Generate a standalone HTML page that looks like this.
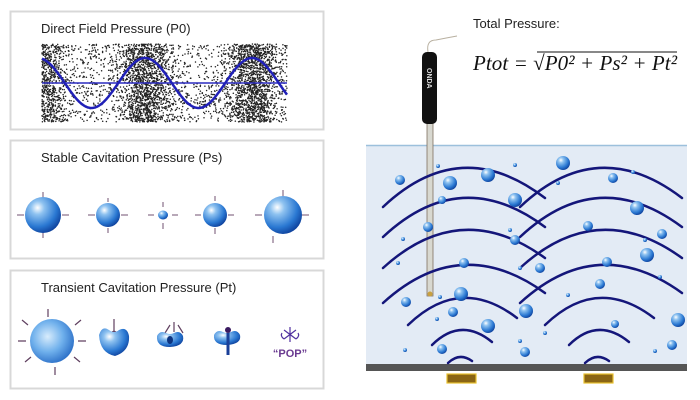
<!DOCTYPE html>
<html><head><meta charset="utf-8"><style>
html,body{margin:0;padding:0;background:#fff;}
svg{display:block;}
text{font-family:"Liberation Sans",sans-serif;}
</style></head><body>
<svg id="s" width="700" height="400" viewBox="0 0 700 400" xmlns="http://www.w3.org/2000/svg">
<defs>
<radialGradient id="b" cx="0.35" cy="0.3" r="0.75">
<stop offset="0" stop-color="#ffffff"/><stop offset="0.25" stop-color="#8ec2f0"/><stop offset="0.7" stop-color="#2a78d2"/><stop offset="1" stop-color="#0d3f9a"/>
</radialGradient>
<radialGradient id="b2" cx="0.4" cy="0.4" r="0.7">
<stop offset="0" stop-color="#d8ecfc"/><stop offset="0.5" stop-color="#6fb0ec"/><stop offset="1" stop-color="#1f63c0"/>
</radialGradient>
</defs>
<rect x="10.5" y="11.5" width="313" height="118" fill="#fff" stroke="#d8d8d8" stroke-width="2"/>
<rect x="10.5" y="140.5" width="313" height="118" fill="#fff" stroke="#d8d8d8" stroke-width="2"/>
<rect x="10.5" y="270.5" width="313" height="118" fill="#fff" stroke="#d8d8d8" stroke-width="2"/>
<text x="41" y="33" font-size="13" fill="#222">Direct Field Pressure (P0)</text>
<text x="41" y="162" font-size="13" fill="#222">Stable Cavitation Pressure (Ps)</text>
<text x="41" y="292" font-size="13" fill="#222">Transient Cavitation Pressure (Pt)</text>
<g id="dots"></g>
<line x1="42" y1="83" x2="287" y2="83" stroke="#2c2cc0" stroke-width="1.5"/>
<path id="wave" fill="none" stroke="#2020b8" stroke-width="2.5"/>
<g stroke="#705070" stroke-width="1" fill="none">
<path d="M17 215h7M62 215h7M43 192v6M43 232v6"/>
<path d="M88 215h7M121 215h7M108 198v4M108 228v5"/>
<path d="M148 215h6M172 215h6M163 202v5M163 223v6"/>
<path d="M195 215h6M228 215h6M215 196v5M215 228v6"/>
<path d="M255 215h7M302 215h7M283 190v6M273 236v7"/>
</g>
<circle cx="43" cy="215" r="18" fill="url(#b)"/>
<circle cx="108" cy="215" r="12" fill="url(#b)"/>
<ellipse cx="163" cy="215" rx="5" ry="4.5" fill="url(#b)"/>
<ellipse cx="215" cy="215" rx="12" ry="12" fill="url(#b)"/>
<circle cx="283" cy="215" r="19" fill="url(#b)"/>
<g stroke="#604060" stroke-width="1.2">
<path d="M48 309v8M22 320l6 5M81 320l-6 5M18 341h8M78 341h8M25 362l6-5M80 362l-6-5M55 367v8"/>
<path d="M114 319v19M114 331l-8 4M114 331l8 4"/>
<path d="M174 322v10M170 325l-5 8M178 325l5 8"/>
</g>
<circle cx="52" cy="341" r="22" fill="url(#b2)"/>
<path d="M99 335 q3 -10 10 -5 q5 4 10 0 q8 -4 10 6 q1 15 -14 20 q-15 -3 -16 -21z" fill="url(#b)"/>
<path d="M157 336 q3 -6 9 -3 q4 2 8 0 q6 -3 9 3 q2 10 -13 11 q-14 0 -13 -11z" fill="url(#b)"/>
<ellipse cx="170" cy="340" rx="3" ry="4" fill="#0d3480"/>
<path d="M214 335 q3 -6 9 -3 q4 2 8 0 q6 -3 9 3 q2 9 -13 10 q-14 0 -13 -10z" fill="url(#b)"/>
<path d="M228 333 v22" stroke="#1a3f98" stroke-width="3"/>
<circle cx="228" cy="330" r="3" fill="#3a1a60"/>
<g stroke="#5030a0" stroke-width="1.2" fill="none">
<path d="M284 330l12 9M296 330l-12 9M290 327v15M282 333 q-2 3 2 6M298 333 q2 3 -2 6"/>
</g>
<text x="290" y="357" font-size="11" font-weight="bold" fill="#6a3a90" text-anchor="middle">“POP”</text>
<text x="473" y="28" font-size="13" fill="#222">Total Pressure:</text>
<text x="473" y="70" font-size="21" fill="#111" textLength="204" style="font-family:'Liberation Serif',serif;font-style:italic">Ptot = √P0² + Ps² + Pt²</text>
<line x1="537" y1="52" x2="677" y2="52" stroke="#111" stroke-width="1"/>
<path d="M428 52 q-2 -12 8 -12 q10 -2 21 -4" fill="none" stroke="#b8b0a0" stroke-width="1"/>
<rect x="366" y="145" width="321" height="220" fill="#e3ebf5"/>
<line x1="366" y1="145.5" x2="687" y2="145.5" stroke="#9cc0dc" stroke-width="1.5"/>
<rect x="427" y="118" width="6" height="178" fill="#d8d8d0" stroke="#807060" stroke-width="0.8"/>
<circle cx="430" cy="294" r="2.5" fill="#c8a040"/>
<rect x="422" y="52" width="15" height="72" rx="5" fill="#111"/>
<text x="0" y="0" font-size="7" font-weight="bold" fill="#ddd" transform="translate(427,68) rotate(90)">ONDA</text>
<rect x="366" y="364" width="321" height="7" fill="#555"/>
<rect x="447" y="374" width="29" height="9" fill="#8a6515" stroke="#e8c030" stroke-width="1.2"/>
<rect x="584" y="374" width="29" height="9" fill="#8a6515" stroke="#e8c030" stroke-width="1.2"/>
<g id="arcs" fill="none" stroke="#14167a" stroke-width="2.5" stroke-linecap="round"></g>
<g id="bub"></g>
</svg>
<script>
var NS="http://www.w3.org/2000/svg";
function el(t,a,p){var e=document.createElementNS(NS,t);for(var k in a)e.setAttribute(k,a[k]);document.getElementById(p).appendChild(e);return e;}
var seed=7;function r(){seed=(seed*16807)%2147483647;return seed/2147483647;}
var P=107,x0=145;
for(var i=0;i<11000;i++){var x=42+r()*245,y=44+r()*78;var d=Math.cos(2*Math.PI*(x-x0)/P);var p=0.14+0.86*Math.pow((d+1)/2,3);if(r()<p){el("circle",{cx:x.toFixed(1),cy:y.toFixed(1),r:0.75,fill:"#222"},"dots");}}
var w="";for(var x=42;x<=287;x+=1){var y=83-25*Math.cos(2*Math.PI*(x-x0)/P);w+=(x==42?"M":"L")+x+" "+y.toFixed(1);}
document.getElementById("wave").setAttribute("d",w);
var A=[[383,207,168,545,198],[383,237,198,545,227],[383,268,230,545,258],[383,303,265,545,293],[408,325,298,517,318],[432,345,330,492,342],[448,363,357,472,361]];
A.forEach(function(a){[0,137].forEach(function(o){var s=a[0]+o,e=a[3]+o;
var cy=2*a[2]-(a[1]+a[4])/2;var cx=s+(e-s)*0.48;
el("path",{d:"M"+s+" "+a[1]+" Q"+cx+" "+cy+" "+e+" "+a[4]},"arcs");});});
var B=[[400,180,5],[450,183,7],[488,175,7],[515,200,7],[563,163,7],[613,178,5],[637,208,7],[442,200,4],[428,227,5],[588,226,5],[662,234,5],[515,240,5],[647,255,7],[540,268,5],[464,263,5],[607,262,5],[600,284,5],[461,294,7],[406,302,5],[453,312,5],[526,311,7],[488,326,7],[678,320,7],[615,324,4],[442,349,5],[525,352,5],[672,345,5],
[438,166,2],[515,165,2],[558,183,2],[633,172,2],[403,239,2],[510,230,2],[398,263,2],[645,240,2],[520,268,2],[660,277,2],[568,295,2],[440,297,2],[437,319,2],[545,333,2],[520,341,2],[405,350,2],[655,351,2]];
B.forEach(function(b){el("circle",{cx:b[0],cy:b[1],r:b[2],fill:"url(#b)"},"bub");});
</script>
</body></html>
